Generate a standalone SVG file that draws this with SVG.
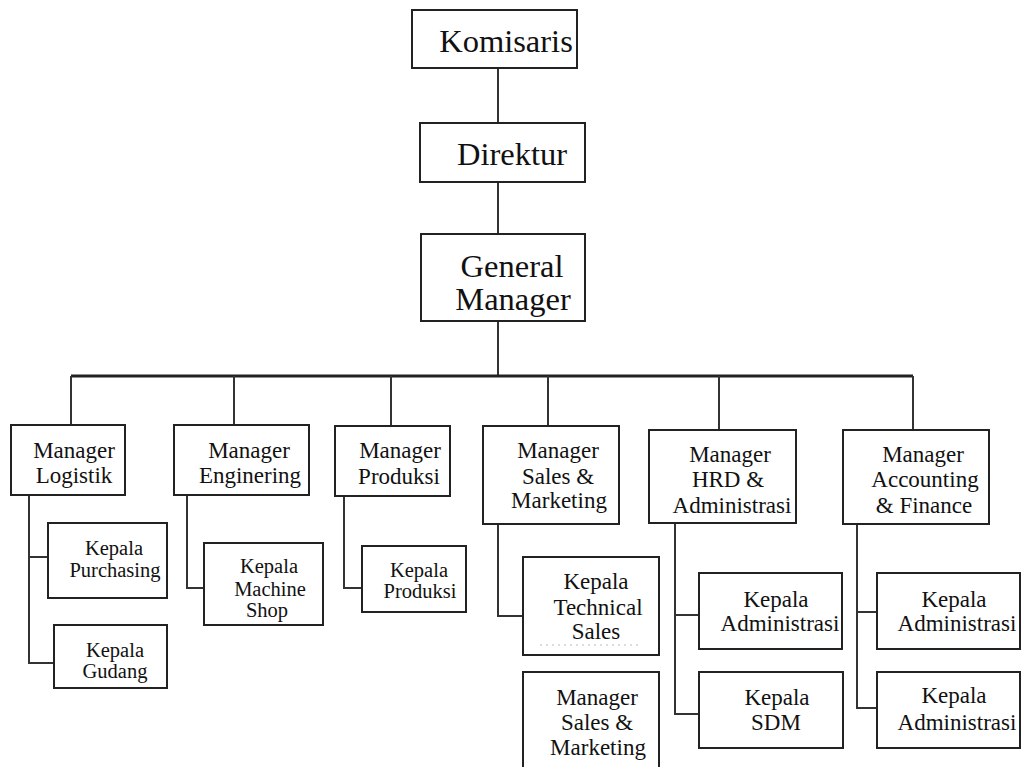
<svg xmlns="http://www.w3.org/2000/svg" width="1022" height="767" viewBox="0 0 1022 767">
<style>
.box{fill:#fff;stroke:#222;stroke-width:2}
.ln{fill:none;stroke:#333;stroke-width:2}
.bar{fill:none;stroke:#222;stroke-width:3}
text{font-family:"Liberation Serif","Times New Roman",serif;fill:#111;text-anchor:middle}
.t1{font-size:32.5px}
.t2{font-size:23px}
.t3{font-size:20.5px}
</style>
<rect width="1022" height="767" fill="#fff"/>
<g id="connectors">
<path class="ln" d="M498 68V123M498 182V234M498 321V375"/>
<path class="bar" d="M71 376H913"/>
<path class="ln" d="M71 376V425M234 376V425M391 376V426M548 376V426M719 376V430M913 376V430"/>
<path class="ln" d="M29 495V663H54M29 557H48"/>
<path class="ln" d="M187 495V588H204"/>
<path class="ln" d="M344 496V588H362"/>
<path class="ln" d="M498 524V616H523"/>
<path class="ln" d="M675 523V714H699M675 615H699"/>
<path class="ln" d="M857 524V708H877M857 612H877"/>
</g>
<g id="komisaris"><rect class="box" x="412" y="10" width="165" height="58"/><text class="t1" x="506" y="52">Komisaris</text></g>
<g id="direktur"><rect class="box" x="420" y="123" width="165" height="59"/><text class="t1" x="512" y="165">Direktur</text></g>
<g id="gm"><rect class="box" x="421" y="234" width="164" height="87"/><text class="t1" x="512" y="277">General</text><text class="t1" x="513" y="310">Manager</text></g>
<g id="m-logistik"><rect class="box" x="11" y="425" width="114" height="70"/><text class="t2" x="74" y="458">Manager</text><text class="t2" x="74" y="483">Logistik</text></g>
<g id="k-purchasing"><rect class="box" x="48" y="523" width="119" height="75"/><text class="t3" x="114" y="555">Kepala</text><text class="t3" x="115" y="577">Purchasing</text></g>
<g id="k-gudang"><rect class="box" x="54" y="625" width="113" height="63"/><text class="t3" x="115" y="657">Kepala</text><text class="t3" x="115" y="678">Gudang</text></g>
<g id="m-enginering"><rect class="box" x="174" y="425" width="135" height="70"/><text class="t2" x="249" y="458">Manager</text><text class="t2" x="250" y="483">Enginering</text></g>
<g id="k-machine"><rect class="box" x="204" y="543" width="119" height="82"/><text class="t3" x="269" y="573">Kepala</text><text class="t3" x="270" y="596">Machine</text><text class="t3" x="267" y="617">Shop</text></g>
<g id="m-produksi"><rect class="box" x="335" y="426" width="115" height="70"/><text class="t2" x="400" y="458">Manager</text><text class="t2" x="399" y="484">Produksi</text></g>
<g id="k-produksi"><rect class="box" x="362" y="546" width="104" height="66"/><text class="t3" x="419" y="577">Kepala</text><text class="t3" x="420" y="598">Produksi</text></g>
<g id="m-sales"><rect class="box" x="483" y="426" width="136" height="98"/><text class="t2" x="558" y="458">Manager</text><text class="t2" x="558" y="484">Sales &amp;</text><text class="t2" x="559" y="508">Marketing</text></g>
<g id="k-technical"><rect class="box" x="523" y="557" width="136" height="98"/><text class="t2" x="596" y="589">Kepala</text><text class="t2" x="598" y="615">Technical</text><text class="t2" x="596" y="639">Sales</text><path d="M540 645H640" stroke="#bbb" stroke-width="1" stroke-dasharray="2 4"/></g>
<g id="m-sales-2"><rect class="box" x="523" y="672" width="136" height="110"/><text class="t2" x="597" y="705">Manager</text><text class="t2" x="597" y="730">Sales &amp;</text><text class="t2" x="598" y="755">Marketing</text></g>
<g id="m-hrd"><rect class="box" x="649" y="430" width="147" height="93"/><text class="t2" x="730" y="462">Manager</text><text class="t2" x="728" y="487">HRD &amp;</text><text class="t2" x="732" y="513">Administrasi</text></g>
<g id="k-admin-hrd"><rect class="box" x="699" y="573" width="143" height="76"/><text class="t2" x="776" y="607">Kepala</text><text class="t2" x="780" y="631">Administrasi</text></g>
<g id="k-sdm"><rect class="box" x="699" y="672" width="144" height="76"/><text class="t2" x="777" y="705">Kepala</text><text class="t2" x="776" y="730">SDM</text></g>
<g id="m-accounting"><rect class="box" x="843" y="430" width="146" height="94"/><text class="t2" x="923" y="462">Manager</text><text class="t2" x="925" y="487">Accounting</text><text class="t2" x="924" y="513">&amp; Finance</text></g>
<g id="k-admin-acc-1"><rect class="box" x="877" y="573" width="143" height="76"/><text class="t2" x="954" y="607">Kepala</text><text class="t2" x="957" y="631">Administrasi</text></g>
<g id="k-admin-acc-2"><rect class="box" x="877" y="672" width="143" height="76"/><text class="t2" x="954" y="703">Kepala</text><text class="t2" x="957" y="730">Administrasi</text></g>
</svg>
